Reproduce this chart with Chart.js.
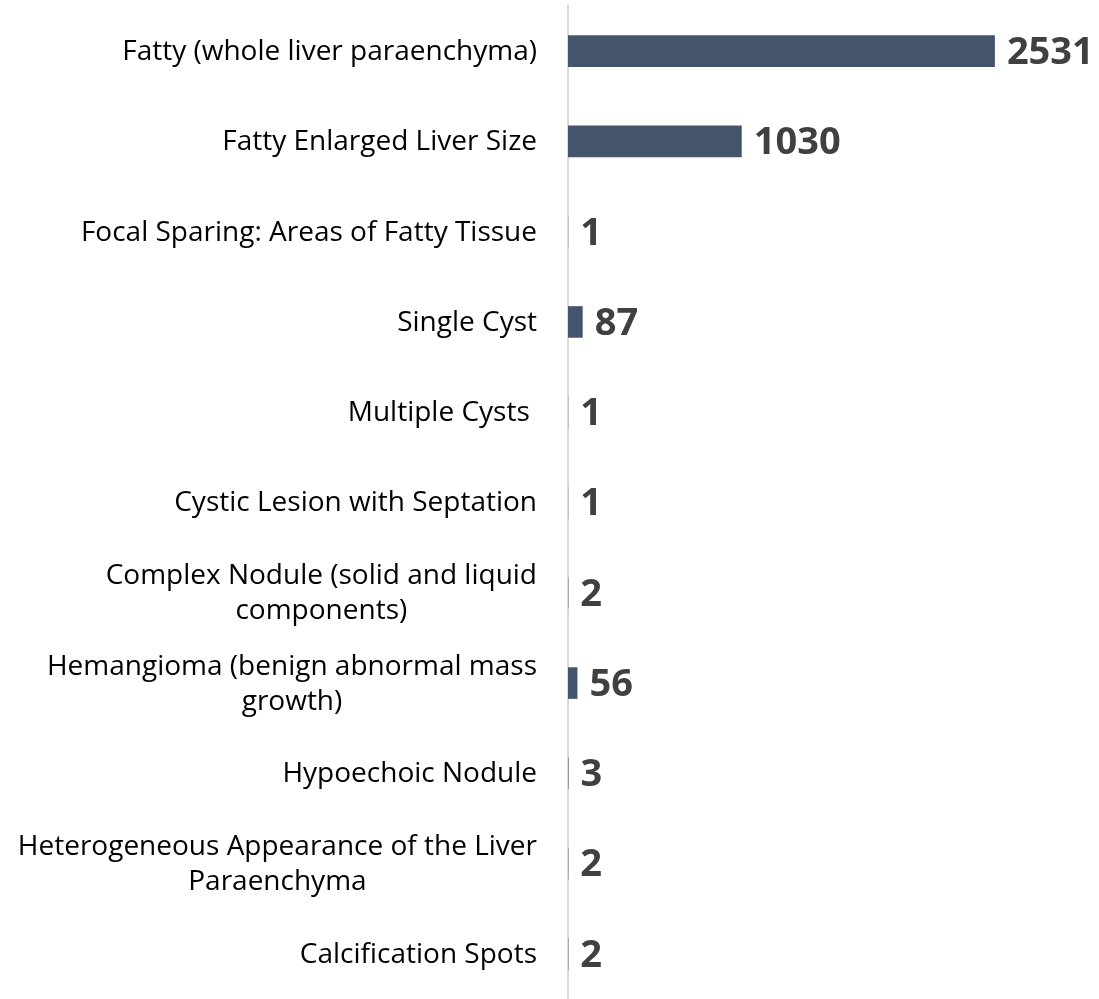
<!DOCTYPE html>
<html>
<head>
<meta charset="utf-8">
<script src="https://cdn.jsdelivr.net/npm/chart.js@4.4.1/dist/chart.umd.min.js"></script>
<style>
  body { margin: 0; background: #fff; }
  #wrap { width: 1099px; height: 999px; }
</style>
</head>
<body>
<div id="wrap"><canvas id="chart" width="1099" height="999"></canvas></div>
<script>
const categories = [
  "Fatty (whole liver paraenchyma)",
  "Fatty Enlarged Liver Size",
  "Focal Sparing: Areas of Fatty Tissue",
  "Single Cyst",
  "Multiple Cysts ",
  "Cystic Lesion with Septation",
  ["Complex Nodule (solid and liquid", "components)"],
  ["Hemangioma (benign abnormal mass", "growth)"],
  "Hypoechoic Nodule",
  ["Heterogeneous Appearance of the Liver", "Paraenchyma"],
  "Calcification Spots"
];
const counts = [2531, 1030, 1, 87, 1, 1, 2, 56, 3, 2, 2];
const xMax = 3000;

// category labels: text block right-aligned to the axis, lines centred inside it
const catLabels = {
  id: "catLabels",
  afterDraw(chart) {
    const ctx = chart.ctx;
    const y = chart.scales.y;
    const right = y.right - 31;
    const lh = 35;
    ctx.save();
    ctx.font = "28px 'Open Sans'";
    ctx.fillStyle = "#000";
    ctx.textBaseline = "middle";
    ctx.textAlign = "center";
    categories.forEach((lab, i) => {
      const lines = Array.isArray(lab) ? lab : [lab];
      const w = Math.max(...lines.map(l => ctx.measureText(l).width));
      const cx = right - w / 2;
      const cy = y.getPixelForTick(i) + 1;
      lines.forEach((l, k) => {
        const ly = cy + (k - (lines.length - 1) / 2) * lh;
        ctx.fillText(l, cx, ly);
      });
    });
    ctx.restore();
  }
};

// draws the value at the end of each bar
const valueLabels = {
  id: "valueLabels",
  afterDatasetsDraw(chart) {
    const ctx = chart.ctx;
    const meta = chart.getDatasetMeta(0);
    ctx.save();
    ctx.font = "bold 38px 'Open Sans'";
    ctx.fillStyle = "#404040";
    ctx.textAlign = "left";
    ctx.textBaseline = "middle";
    meta.data.forEach((bar, i) => {
      ctx.fillText(String(counts[i]), bar.x + 12, bar.y + 2);
    });
    ctx.restore();
  }
};

new Chart(document.getElementById("chart"), {
  type: "bar",
  data: {
    labels: categories,
    datasets: [{
      data: counts,
      backgroundColor: "#44546A",
      barPercentage: 0.35,
      categoryPercentage: 1
    }]
  },
  options: {
    indexAxis: "y",
    responsive: false,
    animation: false,
    layout: { padding: { top: 6, bottom: -5, right: 25, left: 0 } },
    plugins: {
      legend: { display: false },
      tooltip: { enabled: false }
    },
    scales: {
      x: { display: false, min: 0, max: xMax },
      y: {
        grid: { display: false },
        border: { display: true, color: "#d9d9d9", width: 2 },
        ticks: { display: false },
        afterFit(scale) {
          scale.width = 568;
          scale.paddingTop = 0;
          scale.paddingBottom = 0;
        }
      }
    }
  },
  plugins: [valueLabels, catLabels]
});
</script>
</body>
</html>
